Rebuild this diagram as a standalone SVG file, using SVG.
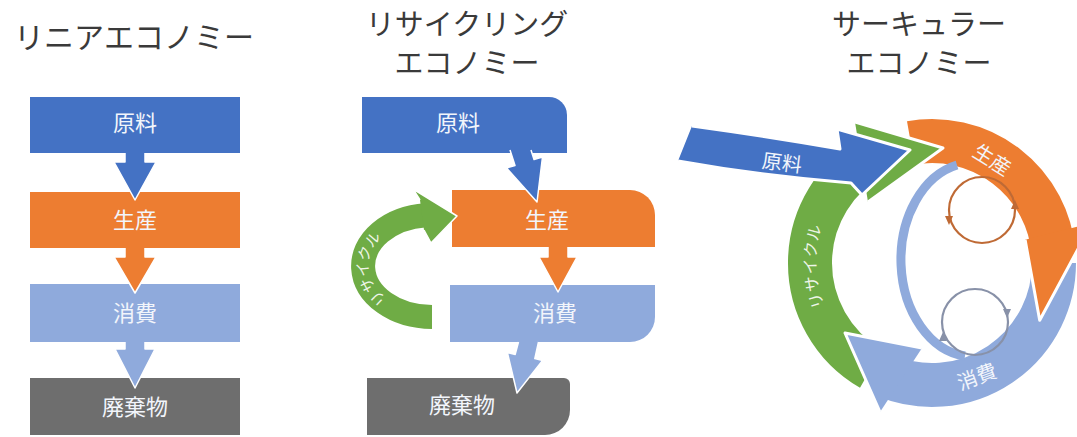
<svg xmlns="http://www.w3.org/2000/svg" width="1077" height="437" viewBox="0 0 1077 437">
<style>
.t{font-family:"Noto Sans CJK JP","Noto Sans",sans-serif}
.title{font-size:29px;fill:#3a3a3a}
.lbl{font-size:22px;fill:#f2f5fb;text-anchor:middle}
.small{font-size:20px}
.blue{fill:#4472C4}
.orange{fill:#ED7D31}
.lblue{fill:#8FAADC}
.gray{fill:#6E6E6E}
.green{fill:#6FAC45}
.halo{stroke:#ffffff;stroke-width:1.5;stroke-linejoin:round}
.halo3{stroke:#ffffff;stroke-width:3;stroke-linejoin:round}
.band{fill:none;stroke-width:44}
</style>
<defs>
<path id="rcPath" d="M432,317 A69,51 0 0 1 426,215.2"/>
<path id="gcPath" d="M871,368.66 A122,122 0 0 1 874.72,155.28"/>
</defs>
<rect width="1077" height="437" fill="#ffffff"/>

<!-- Titles -->
<text class="t title" x="14" y="48" style="font-size:30px">リニアエコノミー</text>
<text class="t title" x="467" y="35" text-anchor="middle">リサイクリング</text>
<text class="t title" x="467" y="74" text-anchor="middle">エコノミー</text>
<text class="t title" x="919" y="35" text-anchor="middle">サーキュラー</text>
<text class="t title" x="919" y="74" text-anchor="middle">エコノミー</text>

<!-- Linear economy -->
<g id="lin-genryo"><rect class="blue" x="30" y="97" width="210" height="56"/><text class="t lbl" x="135" y="131">原料</text></g>
<g id="lin-seisan"><rect class="orange" x="30" y="192" width="210" height="56"/><text class="t lbl" x="135" y="228">生産</text></g>
<g id="lin-shohi"><rect class="lblue" x="30" y="284" width="210" height="58"/><text class="t lbl" x="135" y="321">消費</text></g>
<g id="lin-haikibutsu"><rect class="gray" x="30" y="378" width="210" height="57"/><text class="t lbl" x="135" y="415">廃棄物</text></g>
<g id="lin-connectors">
<path class="blue halo" d="M125,153 V162 H114 L135,200 L156,162 H145 V153"/>
<path class="orange halo" d="M125,248 V257 H114 L135,293 L156,257 H145 V248"/>
<path class="lblue halo" d="M125,342 V349 H115 L135,388 L155,349 H145 V342"/>
</g>

<!-- Recycling economy -->
<g id="rec-genryo"><path class="blue" d="M362,97 H549 A18,18 0 0 1 567,115 V153 H362 Z"/><text class="t lbl" x="458" y="131">原料</text></g>
<g id="rec-seisan"><path class="orange" d="M452,190 H630 A25,25 0 0 1 655,215 V247 H452 Z"/><text class="t lbl" x="547" y="228">生産</text></g>
<g id="rec-shohi"><path class="lblue" d="M450,285 H655 V317 A25,25 0 0 1 630,342 H450 Z"/><text class="t lbl" x="555" y="321">消費</text></g>
<g id="rec-haikibutsu"><path class="gray" d="M367,378 H564 A6,6 0 0 1 570,384 V410 A25,25 0 0 1 545,435 H367 Z"/><text class="t lbl" x="462" y="413">廃棄物</text></g>
<g id="rec-connectors">
<path class="blue halo" d="M510,150 L515,165.5 L506.5,168 L537,202 L542.5,157 L534,159.5 L531,150"/>
<path class="orange halo" d="M548,247 V257 H539 L558,292 L577,257 H568 V247"/>
<path class="lblue halo" d="M518.5,342 L515.2,354.4 L507.4,352.6 L517,393 L542.6,360.4 L534.8,358.6 L538.5,342"/>
<g id="rec-recycle">
<use href="#rcPath" fill="none" stroke="#6FAC45" stroke-width="24"/>
<path class="green halo" d="M420,200 L413,189 L457,216 L431,243 L424,230"/>
<text class="t" font-size="15" fill="#eef5e8" dy="5" letter-spacing="1.5"><textPath href="#rcPath" startOffset="50%" text-anchor="middle">リサイクル</textPath></text>
</g>
</g>

<!-- Circular economy -->
<g id="circular">
<path class="band" stroke="#8FAADC" d="M1054,263 A122,122 0 0 1 886.30,376.12"/>
<path class="band" stroke="#ED7D31" d="M910.82,142.85 A122,122 0 0 1 1053.54,252.37"/>
<path class="band" stroke="#6FAC45" d="M871,368.66 A122,122 0 0 1 874.72,155.28"/>
<path fill="none" stroke="#8FAADC" stroke-width="9" d="M965,356 A72,97 0 0 1 957,165"/>
<path class="orange halo3" d="M1025.1,239.8 L1039.7,320.3 L1092,223"/>
<path class="lblue halo3" d="M922,348 L845,333 L880,412"/>
<path class="green halo3" d="M868,202 L943,148 L855,122"/>
<path class="blue halo3" d="M692,126 Q765,136 840,149 L837,129 L910,150 L862,195 L851,183 Q762,176 678,161"/>
<circle cx="982" cy="210" r="33" fill="none" stroke="#BF6A35" stroke-width="2.2"/>
<path fill="#BF6A35" d="M945,216 L953,216 L949,225 Z M1011,209 L1019,209 L1015,200 Z"/>
<circle cx="975" cy="322" r="33" fill="none" stroke="#8891A8" stroke-width="2.2"/>
<path fill="#8891A8" d="M939,341 L947,341 L943,332 Z M1003,309 L1011,309 L1007,318 Z"/>
<text class="t lbl small" x="782" y="170" transform="rotate(7 782 163)">原料</text>
<text class="t lbl small" x="992" y="167" transform="rotate(32 992 160)">生産</text>
<text class="t lbl small" x="977" y="384" transform="rotate(-20 977 377)">消費</text>
<text class="t" font-size="16" fill="#eef5e8" dy="6" letter-spacing="1.5"><textPath href="#gcPath" startOffset="48%" text-anchor="middle">リサイクル</textPath></text>
</g>
</svg>
